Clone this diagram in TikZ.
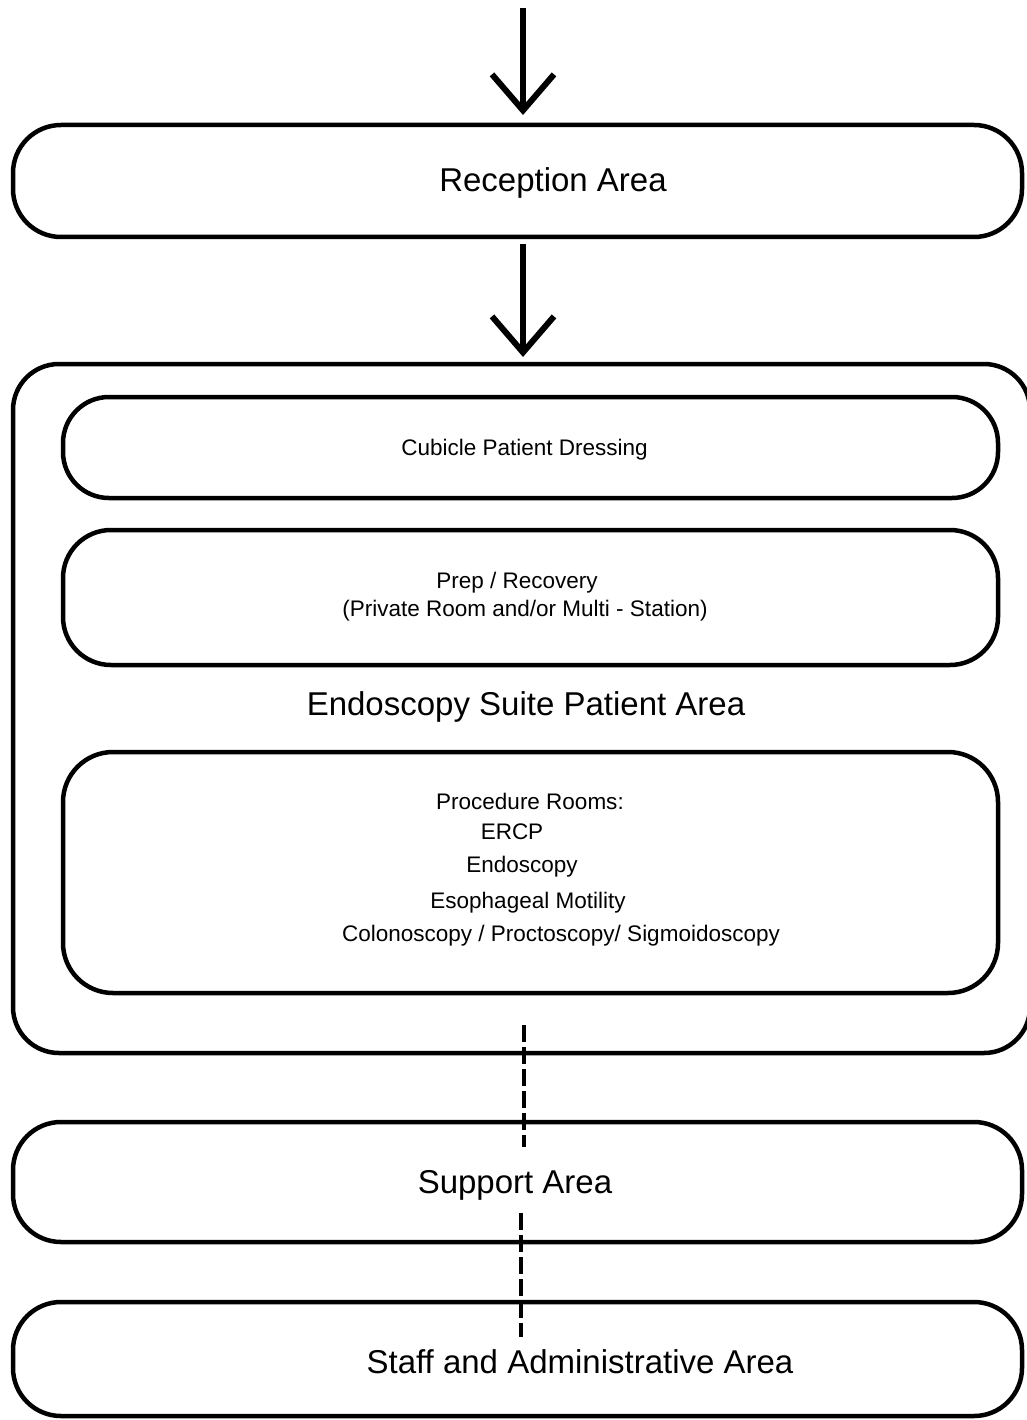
\documentclass[tikz,border=0pt]{standalone}
\usepackage{fontspec}
\setmainfont{Liberation Sans}
\usetikzlibrary{arrows.meta}
\begin{document}
\begin{tikzpicture}[x=1pt,y=-1pt,
  area/.style={draw, line width=4.5pt, rounded corners=48pt, inner sep=0pt, outer sep=0pt},
  room/.style={draw, line width=4.5pt, rounded corners=46pt, inner sep=0pt, outer sep=0pt,
    minimum width=935pt},
  bigtxt/.style={anchor=base, inner sep=0pt, font=\fontsize{33}{40}\selectfont},
  smalltxt/.style={anchor=base, inner sep=0pt, font=\fontsize{22.5}{28}\selectfont},
  flow/.style={line width=6pt, -{Straight Barb[length=36pt,width=62pt,sharp]}},
  link/.style={line width=4pt, dash pattern=on 17pt off 5pt}]
\useasboundingbox (0,0) rectangle (1026,1420);

% main areas
\node[area, minimum width=1009pt, minimum height=112pt] (reception) at (517.5,181) {};
\node[area, rounded corners=46pt, minimum width=1017pt, minimum height=689pt] (suite) at (521.5,708.5) {};
\node[area, minimum width=1009pt, minimum height=120pt] (support) at (517.5,1182) {};
\node[area, minimum width=1009pt, minimum height=114pt] (staff) at (517.5,1359) {};

% rooms inside the patient area
\node[room, minimum height=101pt] (cubicle) at (530.5,447.5) {};
\node[room, rounded corners=48pt, minimum height=135pt] (prep) at (530.5,597.5) {};
\node[room, rounded corners=50pt, minimum height=241pt] (procedure) at (530.5,872.5) {};

% labels
\node[bigtxt] (treception) at (553,192) {Reception Area};
\node[smalltxt] (tcubicle) at (524.5,455) {Cubicle Patient Dressing};
\node[smalltxt] (tprep) at (517,588) {Prep / Recovery};
\node[smalltxt] (tprivate) at (525,616) {(Private Room and/or Multi - Station)};
\node[bigtxt] (tsuite) at (526,715) {Endoscopy Suite Patient Area};
\node[smalltxt] (tproc) at (530,809) {Procedure Rooms:};
\node[smalltxt] (tercp) at (512,839) {ERCP};
\node[smalltxt] (tendo) at (522,872) {Endoscopy};
\node[smalltxt] (tmotility) at (528,908) {Esophageal Motility};
\node[smalltxt] (tcolon) at (561,941) {Colonoscopy / Proctoscopy/ Sigmoidoscopy};
\node[bigtxt] (tsupport) at (515,1193) {Support Area};
\node[bigtxt] (tstaff) at (580,1373) {Staff and Administrative Area};

% flow arrows
\coordinate (entry) at (523,8);
\coordinate (xa) at (523,0);
\coordinate (xb) at (524,0);
\coordinate (xc) at (521,0);
\draw[flow, shorten >=10pt] (entry) -- (reception.north -| xa);
\draw[flow, shorten <=7pt, shorten >=7pt] (reception.south -| xa) -- (suite.north -| xa);

% dashed links between areas
\draw[link, shorten <=-28pt, shorten >=-25pt] (suite.south -| xb) -- (support.north -| xb);
\draw[link, shorten <=-29pt, shorten >=-35pt] (support.south -| xc) -- (staff.north -| xc);
\end{tikzpicture}
\end{document}
